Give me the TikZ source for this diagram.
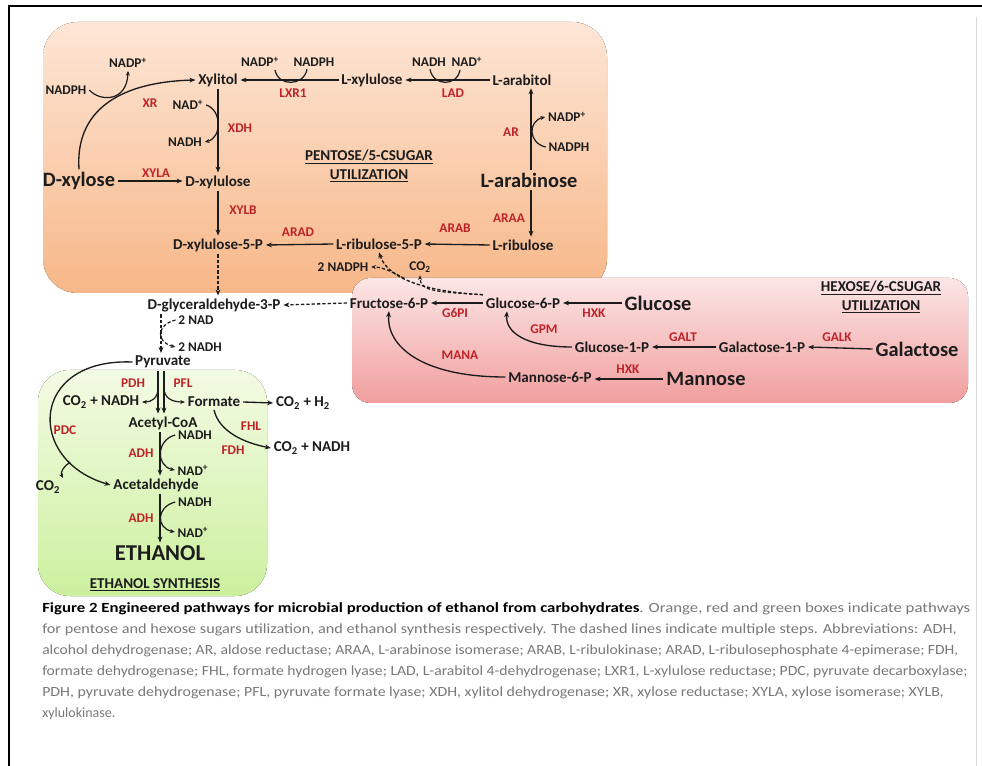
\documentclass[tikz,border=0pt]{standalone}
\usepackage{fontspec}
\setmainfont{Carlito}
\usepackage{graphicx}
\usetikzlibrary{arrows.meta,calc}
\definecolor{ink}{RGB}{28,28,28}
\definecolor{enzred}{RGB}{190,35,40}
\definecolor{orTop}{RGB}{253,230,214}
\definecolor{orBot}{RGB}{247,183,136}
\definecolor{rdTop}{RGB}{252,230,230}
\definecolor{rdBot}{RGB}{241,158,158}
\definecolor{grTop}{RGB}{243,251,228}
\definecolor{grBot}{RGB}{204,240,158}
\definecolor{capgray}{RGB}{120,120,120}
\newcommand\fsMain{\fontsize{11.3}{13}\selectfont}
\newcommand\fsCof{\fontsize{10}{12}\selectfont}
\newcommand\fsEnz{\fontsize{10}{12}\selectfont}
\newcommand\fsBig{\fontsize{15.3}{17}\selectfont}
\newcommand\fsEth{\fontsize{17}{19}\selectfont}
\newcommand\fsTtl{\fontsize{11.3}{13.8}\selectfont}
\newcommand\fsCap{\fontsize{10.5}{12}\selectfont}
\begin{document}
\begin{tikzpicture}[x=0.75pt,y=-0.75pt,
  every node/.style={inner sep=2pt, text=ink},
  lbl/.style={font=\fsMain\bfseries},
  cof/.style={font=\fsCof\bfseries},
  enz/.style={font=\fsEnz\bfseries, text=enzred},
  bigl/.style={font=\fsBig\bfseries},
  ttl/.style={font=\fsTtl\bfseries, align=center},
  rx/.style={draw=ink, line width=1pt, -{Stealth[length=4.5pt,width=3.6pt]}},
  rxd/.style={rx, dash pattern=on 2.5pt off 1.5pt},
  cofa/.style={draw=ink, line width=0.9pt, -{Stealth[length=3.5pt,width=3pt]}},
  cofad/.style={cofa, dash pattern=on 2.5pt off 1.5pt},
  cofl/.style={draw=ink, line width=0.9pt},
  capline/.style={anchor=west, inner sep=0pt, font=\fsCap, text=capgray}]

\useasboundingbox (0,0) rectangle (982,766);

% frame
\draw[line width=1.6pt, black] (9,766) -- (9,6) -- (982,6);
\draw[line width=0.6pt, black!15] (976,17) -- (976,766);

% boxes
\fill[top color=orTop, bottom color=orBot, rounded corners=26pt] (43,22) rectangle (607,293);
\fill[top color=rdTop, bottom color=rdBot, rounded corners=14pt] (352,278) rectangle (968,403);
\fill[top color=grTop, bottom color=grBot, rounded corners=24pt] (38,370) rectangle (267,596);

% ---- pentose nodes
\node[cof] (nadpA) at (128,63) {NADP\textsuperscript{+}};
\node[cof] (nadphA) at (66,90) {NADPH};
\node[lbl] (xylitol) at (218,80) {Xylitol};
\node[cof] (nadpB) at (260,62) {NADP\textsuperscript{+}};
\node[cof] (nadphB) at (314,62) {NADPH};
\node[lbl] (lxylulose) at (372,80) {L-xylulose};
\node[cof] (nadhC) at (429,62) {NADH};
\node[cof] (nadC) at (467,62) {NAD\textsuperscript{+}};
\node[lbl] (larabitol) at (522,80) {L-arabitol};
\node[enz] (lxr1) at (293,93) {LXR1};
\node[enz] (lad) at (453,93) {LAD};
\node[enz] (xr) at (150,103) {XR};
\node[cof] (nadD) at (188,105) {NAD\textsuperscript{+}};
\node[cof] (nadhD) at (185,142) {NADH};
\node[enz] (xdh) at (240,128) {XDH};
\node[cof] (nadpE) at (567,117) {NADP\textsuperscript{+}};
\node[cof] (nadphE) at (569,147) {NADPH};
\node[enz] (ar) at (511,132) {AR};
\node[ttl] (pentose) at (369,166) {\underline{PENTOSE/5-CSUGAR}\\\underline{UTILIZATION}};
\node[bigl] (dxylose) at (79,181) {D-xylose};
\node[enz] (xyla) at (156,173) {XYLA};
\node[lbl] (dxylulose) at (218,182) {D-xylulose};
\node[bigl] (larabinose) at (529,180) {L-arabinose};
\node[enz] (xylb) at (243,210) {XYLB};
\node[enz] (araa) at (509,218) {ARAA};
\node[enz] (arad) at (298,232) {ARAD};
\node[enz] (arab) at (455,228) {ARAB};
\node[lbl] (dx5p) at (218,245) {D-xylulose-5-P};
\node[lbl] (lr5p) at (379,244) {L-ribulose-5-P};
\node[lbl] (lribulose) at (523,245) {L-ribulose};
\node[cof] (nadph2) at (343,267) {2 NADPH};
\node[cof] (co2a) at (420,267) {CO\textsubscript{2}};

% ---- hexose nodes
\node[lbl] (g3p) at (214,305) {D-glyceraldehyde-3-P};
\node[lbl] (f6p) at (389,303) {Fructose-6-P};
\node[lbl] (g6p) at (523,303) {Glucose-6-P};
\node[bigl] (glucose) at (658,303) {Glucose};
\node[enz] (g6pi) at (455,313) {G6PI};
\node[enz] (hxkA) at (594,313) {HXK};
\node[ttl] (hexose) at (881,297) {\underline{HEXOSE/6-CSUGAR}\\\underline{UTILIZATION}};
\node[enz] (gpm) at (544,329) {GPM};
\node[enz] (galt) at (683,337) {GALT};
\node[enz] (galk) at (837,337) {GALK};
\node[lbl] (g1p) at (612,347) {Glucose-1-P};
\node[lbl] (gal1p) at (762,347) {Galactose-1-P};
\node[bigl] (galactose) at (917,349) {Galactose};
\node[enz] (mana) at (460,355) {MANA};
\node[enz] (hxkB) at (628,369) {HXK};
\node[lbl] (m6p) at (550,377) {Mannose-6-P};
\node[bigl] (mannose) at (706,379) {Mannose};

% ---- ethanol nodes
\node[cof] (nad2) at (196,320) {2 NAD};
\node[cof] (nadh2) at (200,347) {2 NADH};
\node[lbl] (pyruvate) at (163,362) {Pyruvate};
\node[enz] (pdh) at (133,383) {PDH};
\node[enz] (pfl) at (183,383) {PFL};
\node[lbl] (co2nadhL) at (101,402) {CO\textsubscript{2} + NADH};
\node[lbl] (formate) at (214,402) {Formate};
\node[lbl] (co2h2) at (303,403) {CO\textsubscript{2} + H\textsubscript{2}};
\node[lbl] (acetylcoa) at (163,423) {Acetyl-CoA};
\node[enz] (fhl) at (251,426) {FHL};
\node[enz] (fdh) at (233,450) {FDH};
\node[enz] (pdc) at (65,430) {PDC};
\node[cof] (nadhF) at (195,435) {NADH};
\node[enz] (adhF) at (141,453) {ADH};
\node[cof] (nadF) at (193,470) {NAD\textsuperscript{+}};
\node[lbl] (co2nadhR) at (312,448) {CO\textsubscript{2} + NADH};
\node[lbl] (co2b) at (48,487) {CO\textsubscript{2}};
\node[lbl] (acetaldehyde) at (156,485) {Acetaldehyde};
\node[cof] (nadhG) at (195,502) {NADH};
\node[enz] (adhG) at (141,518) {ADH};
\node[cof] (nadG) at (193,532) {NAD\textsuperscript{+}};
\node[font=\fsEth\bfseries] (ethanol) at (160,553) {ETHANOL};
\node[ttl] (ethsyn) at (155,585) {\underline{ETHANOL SYNTHESIS}};

% helper x-positions
\coordinate (arx) at (531,0);
\coordinate (gx) at (161,0);
\coordinate (ax) at (160,0);
\coordinate (p1) at (158,0);
\coordinate (p2) at (164,0);

% ---- pentose connectors
\draw[rx] (dxylose.north) .. controls (75,110) and (120,82) .. (xylitol.west);
\draw[cofa] (nadphA.east) .. controls (100,102) and (127,102) .. (nadpA.south);
\draw[rx] (lxylulose.west) -- (xylitol.east);
\draw[cofl] ($(nadpB.south)+(15,0)$) .. controls +(3,17) and +(-3,17) .. ($(nadphB.south)+(-7,0)$);
\draw[rx] (larabitol.west) -- (lxylulose.east);
\draw[cofl] ($(nadhC.south)+(1,0)$) .. controls +(3,17) and +(-3,17) .. ($(nadC.south)+(-7,0)$);
\draw[rx] (larabinose.north -| arx) -- (larabitol.south -| arx);
\draw[cofa] (nadphE.west) .. controls (528,143) and (528,121) .. (nadpE.west);
\draw[rx] (xylitol.south) -- (dxylulose.north);
\draw[cofa] (nadD.east) .. controls (222,110) and (222,138) .. (nadhD.east);
\draw[rx] (dxylose.east) -- (dxylose.east -| dxylulose.west);
\draw[rx] (dxylulose.south) -- (dx5p.north);
\draw[rx] (lr5p.west) -- (dx5p.east);
\draw[rx] (lribulose.west) -- (lr5p.east);
\draw[rx] (larabinose.south -| arx) -- (lribulose.north -| arx);

% ---- dashed multi-step links
\draw[rxd] (dx5p.south) -- (dx5p.south |- g3p.north);
\draw[rxd] (f6p.west) -- (g3p.east);
\draw[rxd] (g6p.north west) .. controls (430,292) and (388,280) .. coordinate[pos=0.6] (brA) (lr5p.south);
\draw[cofad] (brA) .. controls (390,270) and (380,267) .. (nadph2.east);
\draw[cofad] (g6p.north west) .. controls (440,292) and (420,292) .. (co2a.south);

% ---- hexose connectors
\draw[rx] (g6p.west) -- (f6p.east);
\draw[rx] (glucose.west) -- (g6p.east);
\draw[rx] (g1p.west) .. controls (525,347) and (505,332) .. ($(g6p.south)+(-16,0)$);
\draw[rx] (m6p.west) .. controls (420,377) and (386,345) .. (f6p.south);
\draw[rx] (gal1p.west) -- (g1p.east);
\draw[rx] (galactose.west) -- (gal1p.east);
\draw[rx] (mannose.west) -- (mannose.west -| m6p.east);

% ---- ethanol connectors
\draw[rxd] (g3p.south -| gx) -- (pyruvate.north -| gx);
\draw[cofad] (nad2.west) .. controls (156,325) and (156,342) .. (nadh2.west);
\draw[rx] (pyruvate.south -| p1) -- (acetylcoa.north -| p1);
\draw[rx] (pyruvate.south -| p2) -- (acetylcoa.north -| p2);
\coordinate (pdhs) at (158,388);
\coordinate (pfls) at (164,388);
\draw[cofa] (pdhs) .. controls (158,398) and (152,402) .. (co2nadhL.east);
\draw[cofa] (pfls) .. controls (164,398) and (172,402) .. (formate.west);
\draw[rx] (formate.east) -- (co2h2.west);
\draw[rx] (formate.south) .. controls (219,432) and (245,443) .. (co2nadhR.west);
\draw[rx] (pyruvate.west) .. controls (30,358) and (25,460) .. coordinate[pos=0.8] (brP) (acetaldehyde.west);
\draw[cofa] (brP) .. controls (64,466) and (60,472) .. (co2b.north east);
\draw[rx] (acetylcoa.south -| ax) -- (acetaldehyde.north -| ax);
\draw[cofa] (nadhF.west) .. controls (156,440) and (156,466) .. (nadF.west);
\draw[rx] (acetaldehyde.south -| ax) -- (ethanol.north -| ax);
\draw[cofa] (nadhG.west) .. controls (156,507) and (156,528) .. (nadG.west);

% ---- caption
\node[capline] (cap1) at (42,609) {\resizebox{696pt}{\height}{{\bfseries\color{black}Figure 2 Engineered pathways for microbial production of ethanol from carbohydrates}. Orange, red and green boxes indicate pathways}};
\node[capline] (cap2) at (42,630) {\resizebox{686pt}{\height}{for pentose and hexose sugars utilization, and ethanol synthesis respectively. The dashed lines indicate multiple steps. Abbreviations: ADH,}};
\node[capline] (cap3) at (42,651) {\resizebox{687pt}{\height}{alcohol dehydrogenase; AR, aldose reductase; ARAA, L-arabinose isomerase; ARAB, L-ribulokinase; ARAD, L-ribulosephosphate 4-epimerase; FDH,}};
\node[capline] (cap4) at (42,672) {\resizebox{694pt}{\height}{formate dehydrogenase; FHL, formate hydrogen lyase; LAD, L-arabitol 4-dehydrogenase; LXR1, L-xylulose reductase; PDC, pyruvate decarboxylase;}};
\node[capline] (cap5) at (42,693) {\resizebox{676pt}{\height}{PDH, pyruvate dehydrogenase; PFL, pyruvate formate lyase; XDH, xylitol dehydrogenase; XR, xylose reductase; XYLA, xylose isomerase; XYLB,}};
\node[capline] (cap6) at (42,714) {xylulokinase.};
\end{tikzpicture}
\end{document}
